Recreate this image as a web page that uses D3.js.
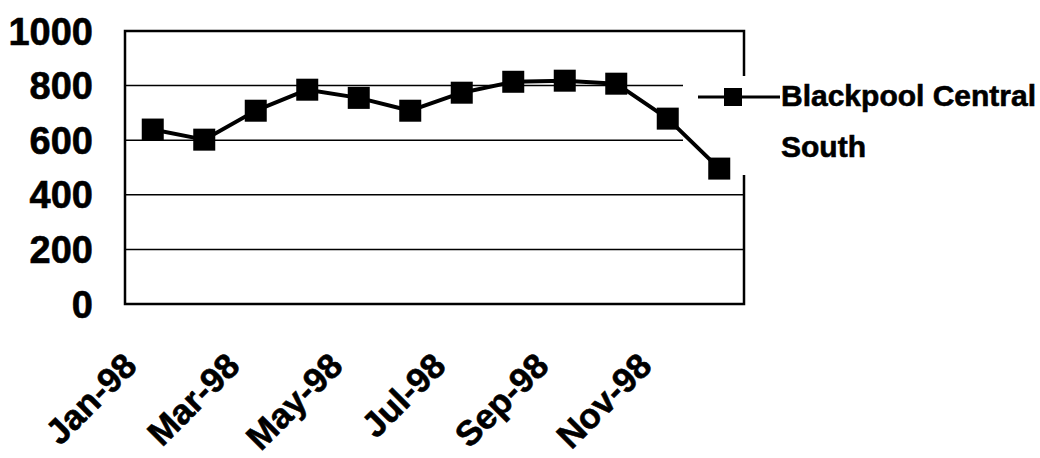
<!DOCTYPE html>
<html>
<head>
<meta charset="utf-8">
<script src="https://cdn.jsdelivr.net/npm/d3@7"></script>
<style>
  html, body { margin: 0; padding: 0; background: #fff; }
  svg { display: block; }
  text { font-family: "Liberation Sans", Arial, sans-serif; font-weight: bold; fill: #000; stroke: #000; stroke-width: 0.6px; }
</style>
</head>
<body>
<svg id="chart" width="1040" height="458"></svg>
<script>
const categories = ["Jan-98","Feb-98","Mar-98","Apr-98","May-98","Jun-98","Jul-98","Aug-98","Sep-98","Oct-98","Nov-98","Dec-98"];
const values = [639, 602, 708, 785, 755, 708, 774, 814, 818, 807, 679, 496];
const xTickLabels = ["Jan-98","Mar-98","May-98","Jul-98","Sep-98","Nov-98"];
const yTicks = [0, 200, 400, 600, 800, 1000];
const seriesName = ["Blackpool Central", "South"];

const svg = d3.select("#chart");
const plot = { left: 125, right: 744, top: 31, bottom: 304 };

const x = d3.scalePoint().domain(categories).range([127, 745]).padding(0.5);
const y = d3.scaleLinear().domain([0, 1000]).range([plot.bottom, plot.top]);

// gridlines
svg.append("g").selectAll("line")
  .data(yTicks.filter(d => d > 0 && d < 1000))
  .join("line")
  .attr("x1", plot.left).attr("x2", plot.right)
  .attr("y1", d => y(d)).attr("y2", d => y(d))
  .attr("stroke", "#000").attr("stroke-width", 1.5);

// plot border
svg.append("rect")
  .attr("x", plot.left).attr("y", plot.top)
  .attr("width", plot.right - plot.left).attr("height", plot.bottom - plot.top)
  .attr("fill", "none").attr("stroke", "#000").attr("stroke-width", 2.5);

// legend background (covers part of plot)
svg.append("rect")
  .attr("x", 683).attr("y", 76).attr("width", 357).attr("height", 99)
  .attr("fill", "#fff");

// y axis labels
svg.append("g").selectAll("text")
  .data(yTicks)
  .join("text")
  .attr("x", 93).attr("y", d => y(d)).attr("dy", "0.36em")
  .attr("text-anchor", "end")
  .style("font-size", "38px")
  .text(d => d);

// x axis labels
svg.append("g").selectAll("text")
  .data(xTickLabels)
  .join("text")
  .attr("transform", d => `translate(${x(d) - 14},368) rotate(-45)`)
  .attr("text-anchor", "end")
  .style("font-size", "35px")
  .text(d => d);

// series line
const line = d3.line().x((d, i) => x(categories[i])).y(d => y(d));
svg.append("path")
  .datum(values)
  .attr("d", line)
  .attr("fill", "none").attr("stroke", "#000").attr("stroke-width", 4)
  .attr("stroke-linejoin", "round");

// markers
const ms = 22;
svg.append("g").selectAll("rect")
  .data(values)
  .join("rect")
  .attr("x", (d, i) => x(categories[i]) - ms / 2)
  .attr("y", d => y(d) - ms / 2)
  .attr("width", ms).attr("height", ms)
  .attr("fill", "#000");

// legend
const lg = svg.append("g");
lg.append("line").attr("x1", 698).attr("x2", 780).attr("y1", 97).attr("y2", 97)
  .attr("stroke", "#000").attr("stroke-width", 3);
lg.append("rect").attr("x", 733 - 9).attr("y", 97 - 9).attr("width", 18).attr("height", 18).attr("fill", "#000");
lg.selectAll("text").data(seriesName).join("text")
  .attr("x", 781).attr("y", (d, i) => 106 + i * 51)
  .style("font-size", "30px")
  .text(d => d);
</script>
</body>
</html>
